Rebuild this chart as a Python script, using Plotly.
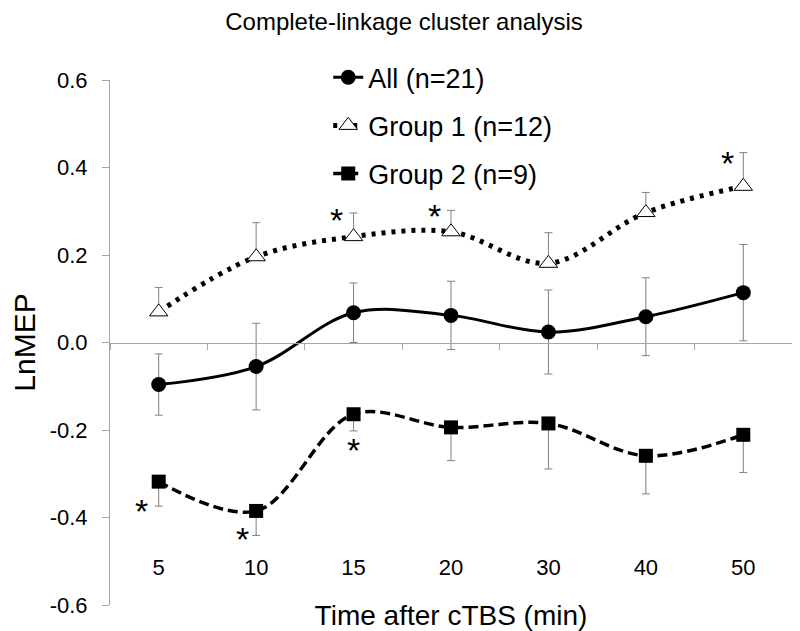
import plotly.graph_objects as go

categories = ["5", "10", "15", "20", "30", "40", "50"]
all_mean = [-0.096, -0.055, 0.068, 0.062, 0.024, 0.059, 0.114]
all_err = [0.070, 0.099, 0.068, 0.078, 0.096, 0.089, 0.110]
g1_mean = [0.070, 0.196, 0.242, 0.253, 0.181, 0.297, 0.357]
g1_err = [0.056, 0.078, 0.054, 0.049, 0.070, 0.046, 0.077]
g2_mean = [-0.318, -0.385, -0.164, -0.194, -0.185, -0.259, -0.211]
g2_err = [0.056, 0.056, 0.038, 0.076, 0.104, 0.087, 0.086]
y_ticks = [-0.6, -0.4, -0.2, 0.0, 0.2, 0.4, 0.6]
y_ticktext = [f"{v:.1f}" for v in y_ticks]

# significance markers (category indices)
sig_g1 = [2, 3, 6]   # above Group 1 error bars
sig_g2 = [0, 1, 2]   # below Group 2 error bars

FONT = "Liberation Sans, Arial, sans-serif"
ERR_COLOR = "#808080"
AXIS_COLOR = "#a6a6a6"

fig = go.Figure()

fig.add_trace(go.Scatter(
    x=categories, y=all_mean, name="All (n=21)", mode="lines+markers",
    line=dict(color="black", width=3, shape="spline", smoothing=1.0),
    marker=dict(symbol="circle", size=15, color="black"),
    error_y=dict(type="data", array=all_err, symmetric=True,
                 color=ERR_COLOR, thickness=1, width=4),
    legendgroup="a",
))
fig.add_trace(go.Scatter(
    x=categories, y=g1_mean, name="Group 1 (n=12)", mode="lines+markers",
    line=dict(color="black", width=5, dash="4px,6px", shape="spline", smoothing=1.0),
    marker=dict(symbol="triangle-up", size=16, color="white",
                line=dict(color="black", width=1)),
    error_y=dict(type="data", array=g1_err, arrayminus=[0] * len(g1_err),
                 symmetric=False, color=ERR_COLOR, thickness=1, width=4),
    legendgroup="b",
))
fig.add_trace(go.Scatter(
    x=categories, y=g2_mean, name="Group 2 (n=9)", mode="lines+markers",
    line=dict(color="black", width=3.5, dash="10px,5px", shape="spline", smoothing=1.0),
    marker=dict(symbol="square", size=14, color="black"),
    error_y=dict(type="data", array=[0] * len(g2_err), arrayminus=g2_err,
                 symmetric=False, color=ERR_COLOR, thickness=1, width=4),
    legendgroup="c",
))

# asterisks anchored at the ends of the error bars (x given as category index)
g1_shift = {2: (-17, -7), 3: (-17, -6), 6: (-16, -10)}
g2_shift = {0: (-17, -5), 1: (-14, -4), 2: (0, -19)}
for i in sig_g1:
    dx, dy = g1_shift[i]
    fig.add_annotation(x=i, y=g1_mean[i] + g1_err[i], text="*",
                       showarrow=False, xshift=dx, yshift=dy,
                       font=dict(family=FONT, size=34, color="black"))
for i in sig_g2:
    dx, dy = g2_shift[i]
    fig.add_annotation(x=i, y=g2_mean[i] - g2_err[i], text="*",
                       showarrow=False, xshift=dx, yshift=dy,
                       font=dict(family=FONT, size=34, color="black"))

fig.update_layout(
    width=792, height=623,
    margin=dict(l=102, r=8, t=72, b=26, autoexpand=False),
    paper_bgcolor="white", plot_bgcolor="white",
    font=dict(family=FONT, color="black"),
    title=dict(text="Complete-linkage cluster analysis", x=0.5, xref="container",
               xanchor="center", y=1 - 14 / 623, yref="container", yanchor="middle",
               font=dict(size=24, color="black")),
    showlegend=True,
    legend=dict(x=0.32, y=1.051, xanchor="left", yanchor="top",
                font=dict(size=27, color="black"), bgcolor="rgba(0,0,0,0)",
                traceorder="grouped", tracegroupgap=10),
    xaxis=dict(type="category", categoryorder="array", categoryarray=categories,
               range=[-0.5, len(categories) - 0.5], anchor="free", position=0.5,
               automargin=False,
               showline=True, linecolor=AXIS_COLOR, linewidth=1,
               ticks="outside", tickson="boundaries", ticklen=6, tickcolor=AXIS_COLOR,
               showgrid=False, zeroline=False,
               tickfont=dict(size=22, color="black"), ticklabelstandoff=205,
               title=dict(text="Time after cTBS (min)", font=dict(size=28), standoff=26)),
    yaxis=dict(range=[-0.6, 0.6], tickvals=y_ticks, ticktext=y_ticktext,
               automargin=False,
               showline=True, linecolor=AXIS_COLOR, linewidth=1,
               ticks="outside", ticklen=7, tickcolor=AXIS_COLOR,
               showgrid=False, zeroline=False,
               tickfont=dict(size=22, color="black"), ticklabelstandoff=10,
               title=dict(text="LnMEP", font=dict(size=30), standoff=12)),
)

fig.write_html("out.html")
